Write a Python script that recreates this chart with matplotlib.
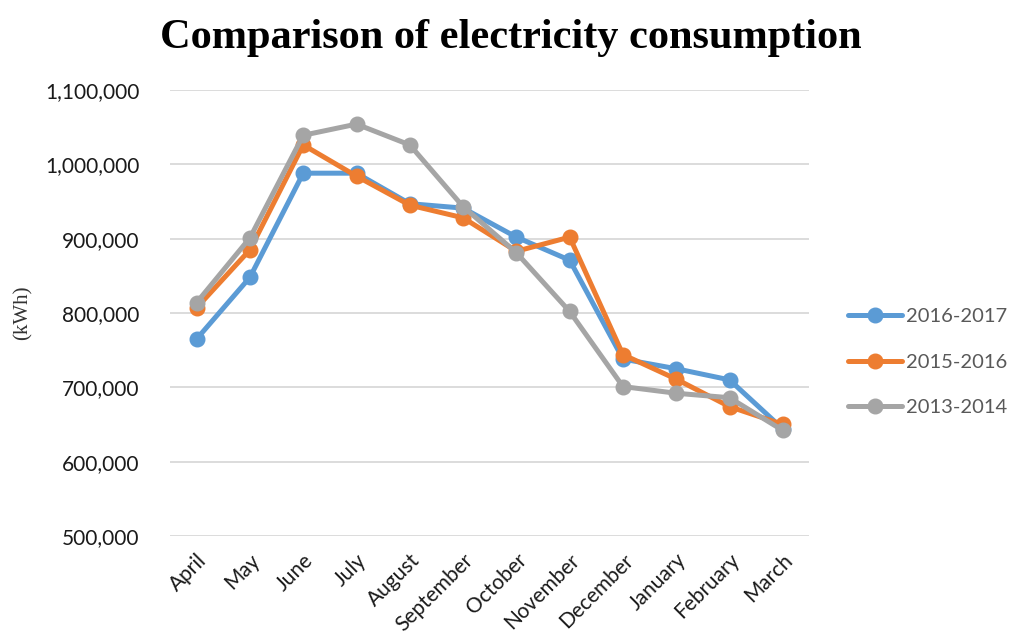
import matplotlib.pyplot as plt
from matplotlib.ticker import FuncFormatter

months = ['April', 'May', 'June', 'July', 'August', 'September', 'October',
          'November', 'December', 'January', 'February', 'March']

fy2016 = [765000, 848000, 988000, 988000, 947000, 941000, 902000,
          871000, 738000, 725000, 710000, 644000]
fy2015 = [807000, 885000, 1026000, 984000, 945000, 928000, 883000,
          902000, 744000, 711000, 674000, 650000]
fy2013 = [814000, 901000, 1039000, 1054000, 1026000, 943000, 881000,
          802000, 701000, 692000, 686000, 642000]

series = [('2016-2017', fy2016, '#5B9BD5'),
          ('2015-2016', fy2015, '#ED7D31'),
          ('2013-2014', fy2013, '#A5A5A5')]

fig = plt.figure(figsize=(10.15, 6.4), dpi=100)
ax = fig.add_axes([0.1675, 0.1625, 0.63, 0.697])

x = range(len(months))
for name, vals, col in series:
    ax.plot(x, vals, color=col, linewidth=3.6, marker='o', markersize=10.5,
            label=name, solid_capstyle='round', solid_joinstyle='round')

ax.set_ylim(500000, 1100000)
ax.set_yticks(range(500000, 1100001, 100000))
ax.yaxis.set_major_formatter(FuncFormatter(lambda v, p: f'{int(v):,}'))
ax.set_xlim(-0.5, len(months) - 0.5)
ax.set_xticks(list(x))
ax.set_xticklabels(months, rotation=45, ha='right', rotation_mode='anchor')
ax.grid(axis='y', color='#d9d9d9', linewidth=1.3)
ax.set_axisbelow(True)
for s in ax.spines.values():
    s.set_visible(False)
ax.tick_params(length=0, labelsize=15, labelcolor='#1a1a1a')
ax.tick_params(axis='y', pad=22)
ax.tick_params(axis='x', pad=10)
for lbl in ax.get_xticklabels() + ax.get_yticklabels():
    lbl.set_family('Lato')

ax.set_ylabel('(kWh)', family='Liberation Serif', fontsize=15, color='#333333')
ax.yaxis.set_label_coords(-0.215, 0.5)

fig.suptitle('Comparison of electricity consumption', x=0.503, y=0.97,
             family='Liberation Serif', fontweight='bold', fontsize=30.5)

leg = ax.legend(loc='center left', bbox_to_anchor=(1.032, 0.39), frameon=False,
                prop={'family': 'Lato', 'size': 14.5}, handlelength=2.7,
                labelspacing=1.4, handletextpad=0.2)
for t in leg.get_texts():
    t.set_color('#595959')

fig.savefig('out.png', dpi=100)
